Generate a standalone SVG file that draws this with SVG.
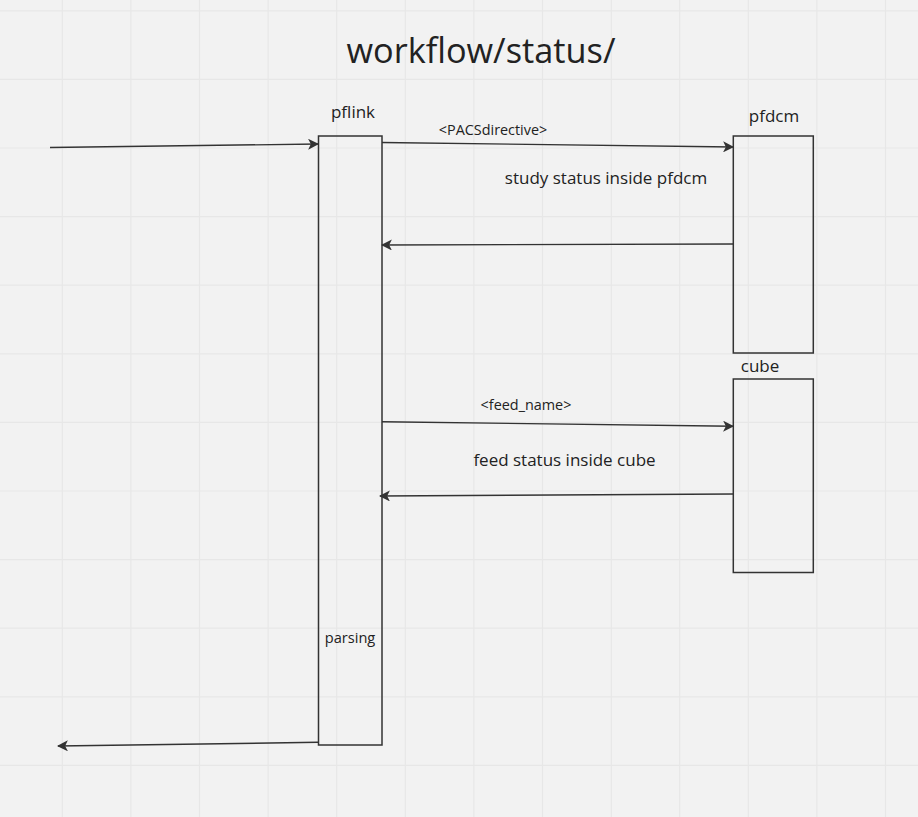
<svg xmlns="http://www.w3.org/2000/svg" width="918" height="817" viewBox="0 0 918 817">
<style>
.grid line{stroke:#e7e7e7;stroke-width:1.2}
.box{fill:none;stroke:#333;stroke-width:1.5}
.conn path{fill:none;stroke:#333;stroke-width:1.4}
text{font-family:"Open Sans","Noto Sans","Liberation Sans",sans-serif;fill:#222}
.lbl{font-size:17px}
.sm{font-size:14.4px}
</style>
<defs>
<marker id="ah" viewBox="0 0 10 10" refX="9" refY="5" markerWidth="11" markerHeight="11" markerUnits="userSpaceOnUse" orient="auto">
<path d="M0,0 L10,5 L0,10 L2.5,5 Z" fill="#333"/>
</marker>
</defs>
<rect width="918" height="817" fill="#f2f2f2"/>
<g class="grid">
<line x1="62.3" y1="0" x2="62.3" y2="817"/>
<line x1="130.9" y1="0" x2="130.9" y2="817"/>
<line x1="199.5" y1="0" x2="199.5" y2="817"/>
<line x1="268.1" y1="0" x2="268.1" y2="817"/>
<line x1="336.7" y1="0" x2="336.7" y2="817"/>
<line x1="405.3" y1="0" x2="405.3" y2="817"/>
<line x1="473.9" y1="0" x2="473.9" y2="817"/>
<line x1="542.5" y1="0" x2="542.5" y2="817"/>
<line x1="611.3" y1="0" x2="611.3" y2="817"/>
<line x1="679.7" y1="0" x2="679.7" y2="817"/>
<line x1="748.3" y1="0" x2="748.3" y2="817"/>
<line x1="816.9" y1="0" x2="816.9" y2="817"/>
<line x1="885.5" y1="0" x2="885.5" y2="817"/>
<line x1="0" y1="10.8" x2="918" y2="10.8"/>
<line x1="0" y1="79.4" x2="918" y2="79.4"/>
<line x1="0" y1="148" x2="918" y2="148"/>
<line x1="0" y1="216.6" x2="918" y2="216.6"/>
<line x1="0" y1="285.2" x2="918" y2="285.2"/>
<line x1="0" y1="353.8" x2="918" y2="353.8"/>
<line x1="0" y1="422.4" x2="918" y2="422.4"/>
<line x1="0" y1="491" x2="918" y2="491"/>
<line x1="0" y1="559.6" x2="918" y2="559.6"/>
<line x1="0" y1="628.2" x2="918" y2="628.2"/>
<line x1="0" y1="696.8" x2="918" y2="696.8"/>
<line x1="0" y1="765.4" x2="918" y2="765.4"/>
</g>
<text x="481" y="63" font-size="34.3" text-anchor="middle">workflow/status/</text>
<g id="pflink">
<rect class="box" x="318.5" y="136" width="63.5" height="609"/>
<text class="lbl" x="353" y="118" text-anchor="middle">pflink</text>
<text x="350" y="643" font-size="14.6" text-anchor="middle">parsing</text>
</g>
<g id="pfdcm">
<rect class="box" x="733.3" y="136" width="80" height="217"/>
<text class="lbl" x="774" y="122" text-anchor="middle">pfdcm</text>
</g>
<g id="cube">
<rect class="box" x="733.3" y="379" width="80" height="193.5"/>
<text class="lbl" x="760" y="372" text-anchor="middle">cube</text>
</g>
<g class="conn">
<path d="M50,147.5 L318,144" marker-end="url(#ah)"/>
<path d="M382,142.5 L733,147" marker-end="url(#ah)"/>
<path d="M733,244 L382,245" marker-end="url(#ah)"/>
<path d="M382,421.7 L733,426.3" marker-end="url(#ah)"/>
<path d="M733,494 L380,496" marker-end="url(#ah)"/>
<path d="M318,742.3 L58,746" marker-end="url(#ah)"/>
</g>
<text class="sm" x="493" y="135" text-anchor="middle">&lt;PACSdirective&gt;</text>
<text class="lbl" x="606" y="184" text-anchor="middle">study status inside pfdcm</text>
<text class="sm" x="526" y="410" text-anchor="middle">&lt;feed_name&gt;</text>
<text class="lbl" x="564.5" y="466" text-anchor="middle">feed status inside cube</text>
</svg>
